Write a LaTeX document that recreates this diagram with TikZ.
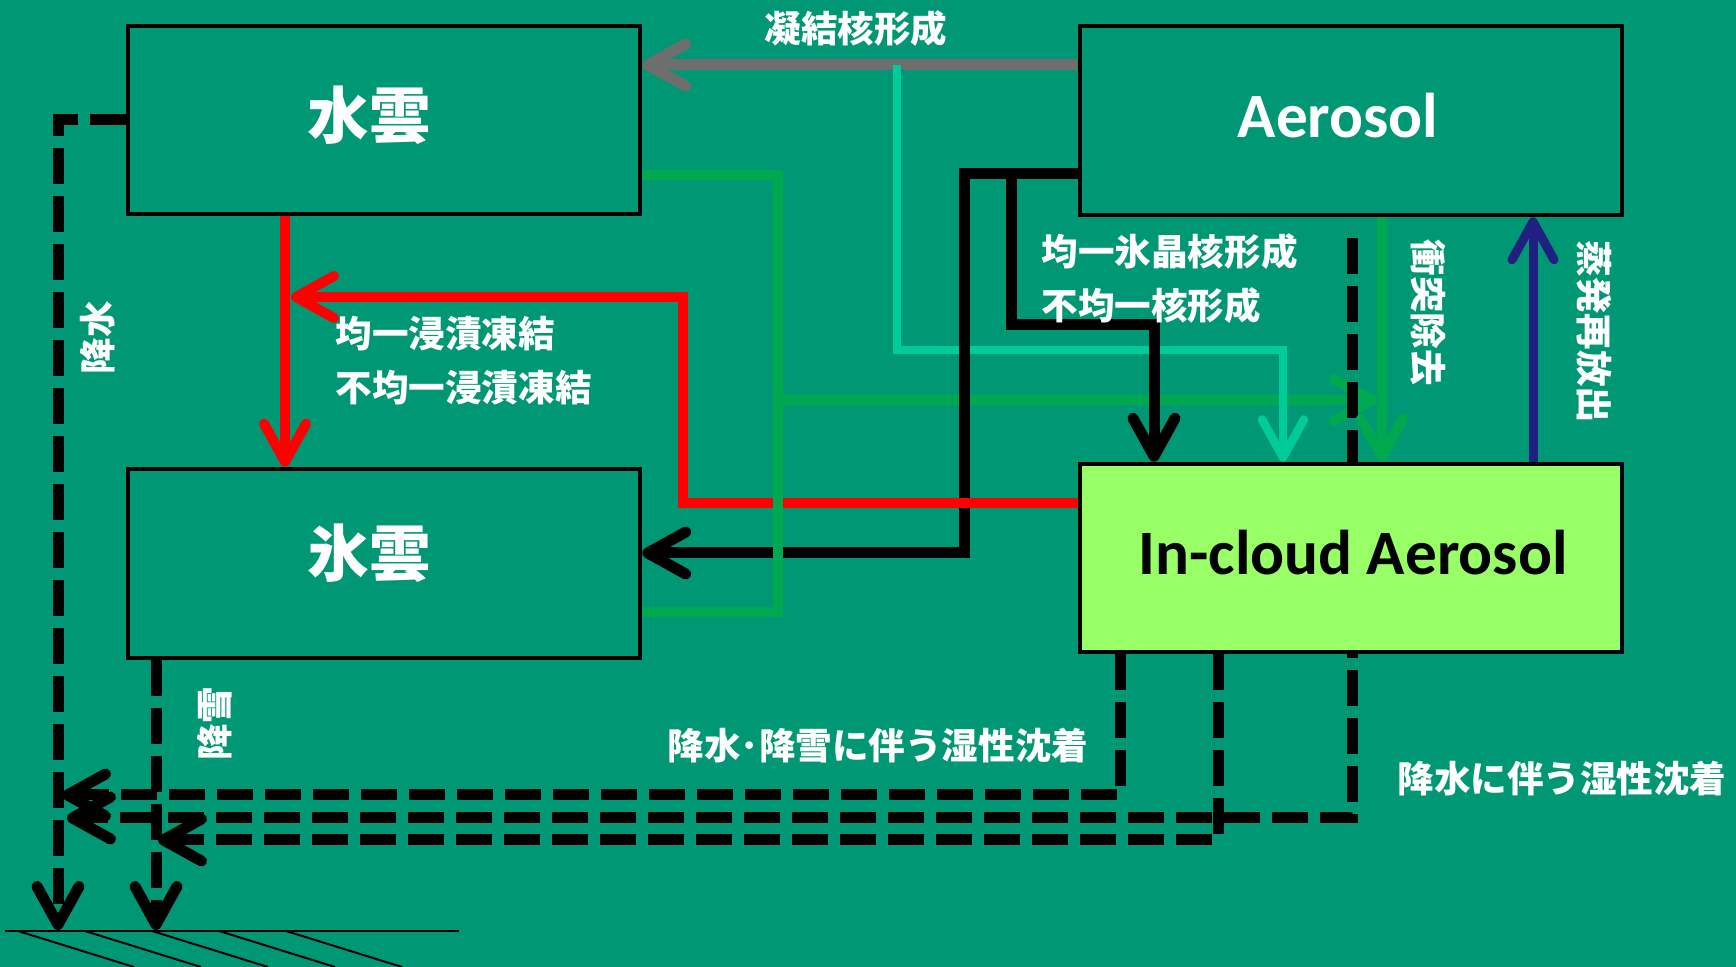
\documentclass[tikz,border=0pt]{standalone}
\usepackage{fontspec}
\setmainfont{Carlito}
\newfontfamily\jpfont{Noto Sans CJK JP}
\usetikzlibrary{arrows.meta}
\definecolor{bgc}{RGB}{0,152,116}
\definecolor{grayc}{RGB}{110,110,110}
\definecolor{tealc}{RGB}{0,204,153}
\definecolor{greenc}{RGB}{0,168,80}
\definecolor{navyc}{RGB}{32,32,128}
\definecolor{redc}{RGB}{255,0,0}
\definecolor{incloud}{RGB}{153,255,102}
\begin{document}
\begin{tikzpicture}[x=0.1mm,y=-0.1mm,
  conn/.style={line width=1mm},
  tip/.style={-{Straight Barb[length=3.8mm,width=4.2mm,round]}},
  dsh/.style={line width=1.1mm, dash pattern=on 3.6mm off 1.2mm, black},
  lbl/.style={text=white, font=\jpfont\bfseries\fontsize{10.4pt}{15.3pt}\selectfont, inner sep=0pt},
  box/.style={draw=black, line width=0.45mm, inner sep=0pt},
  jptxt/.style={font=\jpfont\bfseries\fontsize{17.5pt}{20pt}\selectfont, text=white},
  entxt/.style={font=\bfseries\fontsize{18pt}{20pt}\selectfont},
]
\fill[bgc] (0,0) rectangle (1736,967);
\useasboundingbox (0,0) rectangle (1736,967);

% boxes
\node[box, minimum width=51.2mm, minimum height=18.8mm,
  label={[jptxt, xshift=-1.5mm, yshift=0.5mm]center:水雲}] (W) at (384,120) {};
\node[box, minimum width=51.2mm, minimum height=18.9mm,
  label={[jptxt, xshift=-1.5mm, yshift=1mm]center:氷雲}] (I) at (384,563.5) {};
\node[box, minimum width=54.2mm, minimum height=18.9mm,
  label={[entxt, text=white, xshift=-1.3mm, yshift=0.5mm]center:Aerosol}] (A) at (1351,120.5) {};

% green branch and through dashed line (behind In-cloud box)
\coordinate (gj) at (778,400);
\coordinate (gt) at (1377,400);
\draw[conn, greenc, tip] (gj) -- (gt);
\coordinate (d0) at (1352,238);
\draw[dsh, tip] (d0) |- (67,818);

\node[box, fill=incloud, minimum width=54.2mm, minimum height=18.8mm,
  label={[entxt, text=black, xshift=0.2mm, yshift=0.5mm]center:In-cloud Aerosol}] (C) at (1351,558) {};

% gray condensation nuclei
\draw[conn, grayc, line width=1.1mm, tip] (A.west |- 0,65) -- (W.east |- 0,65);
% teal
\coordinate (tj) at (897,65);
\draw[conn, tealc, line width=0.85mm, tip] (tj) |- (1283,350) -- (C.north -| 1283,0);
% black
\draw[conn, line width=1.1mm, tip] (A.west |- 0,174) -| (964,553) -- (I.east |- 0,553);
\coordinate (bj) at (1011,174);
\draw[conn, line width=1.1mm, tip] (bj) |- (1154,325) -- (C.north -| 1154,0);
% red
\draw[conn, redc, tip] (W.south -| 285,0) -- (I.north -| 285,0);
\coordinate (rj) at (291,297);
\draw[conn, redc, tip] (C.west |- 0,503) -| (683,297) -- (rj);
% green
\draw[conn, greenc] (W.east |- 0,175) -| (778,612) -- (I.east |- 0,612);
\draw[conn, greenc, tip] (A.south -| 1382,0) -- (C.north -| 1382,0);
% navy
\draw[conn, navyc, line width=0.9mm, tip] (C.north -| 1533,0) -- (A.south -| 1533,0);

% wet deposition dashed
\coordinate (g1) at (58,930);
\coordinate (g2) at (156,930);
\draw[dsh, tip] (C.south -| 1120,0) |- (62,795);
\draw[dsh, tip] (C.south -| 1218,0) |- (158,840);
\draw[dsh, tip] (W.west |- 0,120) -| (g1);
\draw[dsh, tip] (I.south -| 156,0) -- (g2);

% ground
\draw[line width=0.2mm] (5,931) -- (459,931);
\foreach \x in {18,85,152,219,286} \draw[line width=0.2mm] (\x,931) -- (\x+116,967);

% labels
\node[lbl] (l1) at (856,29) {凝結核形成};
\node[lbl, anchor=west, align=left] (l2) at (335,361) {均一浸漬凍結\\不均一浸漬凍結};
\node[lbl, anchor=west, align=left] (l3) at (1041,278.5) {均一氷晶核形成\\不均一核形成};
\node[lbl, rotate=90] (l4) at (98,338) {降水};
\node[lbl, rotate=90] (l5) at (215,724) {降雪};
\node[lbl, rotate=-90] (l6) at (1428,313) {衝突除去};
\node[lbl, rotate=-90] (l7) at (1594,332) {蒸発再放出};
\node[lbl] (l8) at (878,746) {降水･降雪に伴う湿性沈着};
\node[lbl] (l9) at (1562,779) {降水に伴う湿性沈着};
\end{tikzpicture}
\end{document}
